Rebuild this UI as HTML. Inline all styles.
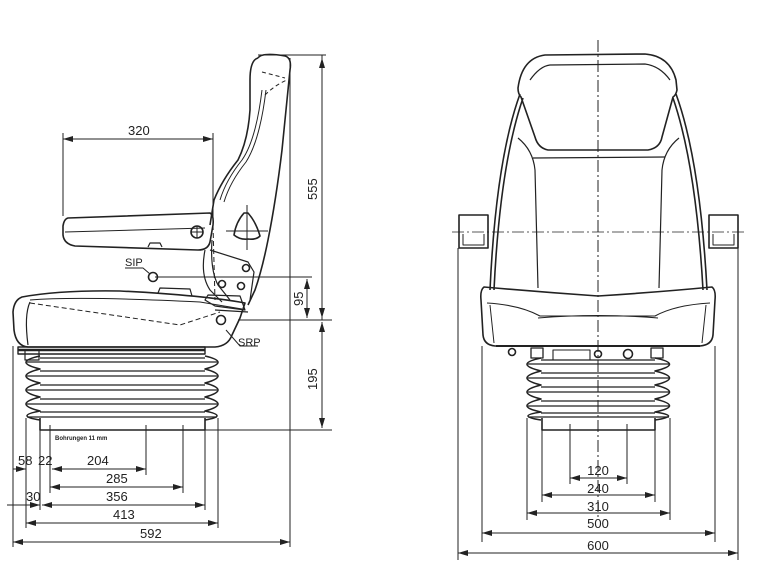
<!DOCTYPE html>
<html><head><meta charset="utf-8"><style>
html,body{margin:0;padding:0;background:#fff;}
svg{display:block;}
text{font-family:"Liberation Sans",sans-serif;fill:#222;}
</style></head><body>
<svg width="776" height="580" viewBox="0 0 776 580" xmlns="http://www.w3.org/2000/svg">
<defs>
<marker id="a" viewBox="0 0 10 6" refX="10" refY="3" markerWidth="10" markerHeight="6" orient="auto-start-reverse" markerUnits="userSpaceOnUse"><path d="M0,0L10,3L0,6z" fill="#222"/></marker>
</defs>
<g fill="none" stroke="#222" stroke-width="1.6" stroke-linejoin="round">
<path d="M258,58 Q262,52 285,56 Q292,58 290,70 L282,150 Q276,200 268,240 Q262,270 255,290 L248,305"/>
<path d="M258,58 Q250,60 250,80 L250,110 Q248,140 238,160 Q222,180 214,200 L210,225"/>
<path d="M262,90 Q256,140 242,160 Q226,180 220,200" stroke-width="1"/>
<path d="M266,90 Q260,140 246,162 Q230,182 224,202" stroke-width="1"/>
<path d="M262,72 L285,78 M265,95 Q275,85 287,80" stroke-width="1" stroke-dasharray="4,3"/>
<path d="M212,240 Q210,270 218,285 L230,300 M205,250 Q200,275 210,290 L222,302" stroke-width="1.2"/>
<path d="M210,250 L248,262 L254,272 L250,300" stroke-width="1.2"/>
<path d="M213,225 L215,300" stroke-width="1" stroke-dasharray="5,3"/>
<path d="M244,213 Q236,222 234,235 Q240,240 248,239 Q256,240 260,236 Q256,222 248,213 Z"/>
<path d="M226,231 L268,231 M247,205 L247,250" stroke-width="1"/>
<path d="M68,218 L210,213 Q214,215 213,225 L210,242 Q208,250 198,250 L75,246 Q64,244 63,235 L63,226 Q64,219 68,218 Z"/>
<path d="M65,232 L205,228" stroke-width="1"/>
<path d="M148,247 L150,243 L160,243 L162,247" stroke-width="1.2"/>
<circle cx="197" cy="232" r="6"/><path d="M191,232H203M197,226V238" stroke-width="1"/>
<circle cx="153" cy="277" r="4.5"/>
<path d="M125,268 L143,268 L150,274" stroke-width="1"/>
<circle cx="246" cy="268" r="3.5"/><circle cx="222" cy="284" r="3.5"/><circle cx="241" cy="286" r="3.5"/><circle cx="221" cy="320" r="4.5"/>
<path d="M22,297 Q60,290 120,291 Q200,295 245,303 L240,318 L232,335 Q228,346 215,347 L28,347 Q16,346 14,330 L13,312 Q14,300 22,297 Z"/>
<path d="M30,300 Q80,296 200,302 L242,309" stroke-width="1"/>
<path d="M30,303 L180,325 L220,312" stroke-width="1" stroke-dasharray="5,3"/>
<path d="M30,302 Q24,315 28,345" stroke-width="1.2"/>
<path d="M158,293 L160,288 L190,289 L192,296" stroke-width="1.2"/>
<path d="M205,300 L208,295 L240,296 L245,310 L215,306 Z" stroke-width="1.2"/>
<path d="M215,310 L248,312" stroke-width="1.2"/>
<path d="M18,347 L205,347 L205,354 L18,354 Z" stroke-width="1.4"/>
<path d="M18,350 L205,350" stroke-width="2.5"/>
<rect x="25" y="350" width="14" height="10" stroke-width="1.2"/>
<path d="M40,358 L205,358 M27,362 L217,362 M40,371 L205,371 M27,376 L217,376 M40,385 L205,385 M27,390 L217,390 M40,399 L205,399 M27,404 L217,404 M40,412 L205,412 M27,417 L217,417" stroke-width="1.3"/>
<path d="M40,356 Q12,362 40,369 Q12,376 40,383 Q12,390 40,397 Q12,404 40,411 Q14,416 40,420"/>
<path d="M205,356 Q231,362 205,369 Q231,376 205,383 Q231,390 205,397 Q231,404 205,411 Q229,416 205,420"/>
<path d="M40,418 L40,430 L205,430 L205,418"/>
</g>
<g fill="none" stroke="#222" stroke-width="1">
<path d="M258,55H326 M155,277H312 M238,320H332 M40,430H332 M63,133V216 M213,133V222 M290,58V547 M322,55V320"/>
<path d="M13,346V547 M26,418V528 M40,430V510 M50,425V493 M146,425V475 M183,425V493 M205,418V510 M218,418V528"/>
<path d="M63,139H213" marker-start="url(#a)" marker-end="url(#a)"/>
<path d="M322,58V318" marker-start="url(#a)" marker-end="url(#a)"/>
<path d="M322,322V428" marker-start="url(#a)" marker-end="url(#a)"/>
<path d="M307,279V318" marker-start="url(#a)" marker-end="url(#a)"/>
<path d="M13,469H26" marker-end="url(#a)"/><path d="M52,469H146" marker-start="url(#a)" marker-end="url(#a)"/>
<path d="M50,487H183" marker-start="url(#a)" marker-end="url(#a)"/>
<path d="M7,505H40" marker-end="url(#a)"/><path d="M42,505H205" marker-start="url(#a)" marker-end="url(#a)"/>
<path d="M26,523H218" marker-start="url(#a)" marker-end="url(#a)"/>
<path d="M13,542H290" marker-start="url(#a)" marker-end="url(#a)"/>
<path d="M226,330 L240,346 L258,346"/>
</g>
<g font-size="13">
<text x="128" y="135">320</text>
<text x="317" y="200" transform="rotate(-90 317 200)">555</text>
<text x="303" y="306" transform="rotate(-90 303 306)">95</text>
<text x="317" y="390" transform="rotate(-90 317 390)">195</text>
<text x="18" y="465">58</text><text x="38" y="465">22</text><text x="87" y="465">204</text>
<text x="106" y="483">285</text>
<text x="26" y="501">30</text><text x="106" y="501">356</text>
<text x="113" y="519">413</text>
<text x="140" y="538">592</text>
<text x="238" y="346" font-size="11">SRP</text>
<text x="125" y="266" font-size="11">SIP</text>
</g>
<text x="55" y="440" font-size="6" font-weight="bold">Bohrungen 11 mm</text>

<g fill="none" stroke="#222" stroke-width="1.6" stroke-linejoin="round">
<path d="M545,55 L645,54 Q670,56 676,80 L677,90 Q676,95 673,97 L662,137 Q660,148 648,150 L548,150 Q538,148 535,137 L521,97 Q518,94 518,88 Q522,58 545,55 Z"/>
<path d="M530,80 Q540,66 550,65 L645,64 Q660,66 670,80" stroke-width="1.2"/>
<path d="M520,94 Q496,160 490,290 M523,98 Q500,165 494,290"/>
<path d="M676,94 Q700,160 707,290 M673,98 Q696,165 703,290"/>
<path d="M518,138 Q533,150 535,170 L538,288 M679,138 Q664,150 662,170 L659,288" stroke-width="1.2"/>
<path d="M533,158 L665,157" stroke-width="1.2"/>
<path d="M459,215 L488,215 L488,248 L459,248 Z"/><path d="M463,234 L463,245 L484,245 L484,234" stroke-width="1"/>
<path d="M709,215 L738,215 L738,248 L709,248 Z"/><path d="M713,234 L713,245 L734,245 L734,234" stroke-width="1"/>
<path d="M484,287 Q540,292 598,296 Q660,292 712,287 Q716,290 715,300 L713,335 Q712,345 700,346 L495,346 Q484,345 483,335 L481,300 Q480,290 484,287 Z"/>
<path d="M487,303 Q520,305 540,316 L655,316 Q675,305 710,303" stroke-width="1.1"/>
<path d="M538,318 Q598,313 658,318" stroke-width="1.1"/>
<path d="M490,305 L494,343 M706,305 L702,343" stroke-width="1"/>
<path d="M496,346 L700,346" stroke-width="2"/>
<rect x="531" y="348" width="12" height="10" stroke-width="1.3"/><rect x="651" y="348" width="12" height="10" stroke-width="1.3"/>
<circle cx="512" cy="352" r="3.5"/><circle cx="628" cy="354" r="4.5"/><circle cx="598" cy="354" r="3.5"/>
<path d="M553,350 L590,350 L590,360 L553,360 Z" stroke-width="1.1"/>
<path d="M541,360 L655,360 M528,364 L669,364 M541,373 L655,373 M528,378 L669,378 M541,387 L655,387 M528,392 L669,392 M541,401 L655,401 M528,406 L669,406 M541,413 L655,413 M528,417 L669,417" stroke-width="1.3"/>
<path d="M541,358 Q513,364 541,371 Q513,378 541,385 Q513,392 541,399 Q513,406 541,412 Q515,416 541,420"/>
<path d="M655,358 Q684,364 655,371 Q684,378 655,385 Q684,392 655,399 Q684,406 655,412 Q682,416 655,420"/>
<path d="M542,418 L542,430 L655,430 L655,418"/>
</g>
<g fill="none" stroke="#222" stroke-width="1">
<path d="M598,40V520" stroke-dasharray="12,3,2,3"/>
<path d="M452,232H745" stroke-dasharray="12,3,2,3" stroke-width="0.8"/>
<path d="M458,248V560 M738,248V560 M482,346V542 M715,346V542 M527,418V520 M670,418V520 M542,430V502 M655,430V502 M570,424V484 M627,424V484"/>
<path d="M570,478H627" marker-start="url(#a)" marker-end="url(#a)"/>
<path d="M542,495H655" marker-start="url(#a)" marker-end="url(#a)"/>
<path d="M527,513H670" marker-start="url(#a)" marker-end="url(#a)"/>
<path d="M482,533H715" marker-start="url(#a)" marker-end="url(#a)"/>
<path d="M458,553H738" marker-start="url(#a)" marker-end="url(#a)"/>
</g>
<g font-size="13" text-anchor="middle">
<text x="598" y="475">120</text>
<text x="598" y="493">240</text>
<text x="598" y="511">310</text>
<text x="598" y="528">500</text>
<text x="598" y="550">600</text>
</g>
</svg>
</body></html>
